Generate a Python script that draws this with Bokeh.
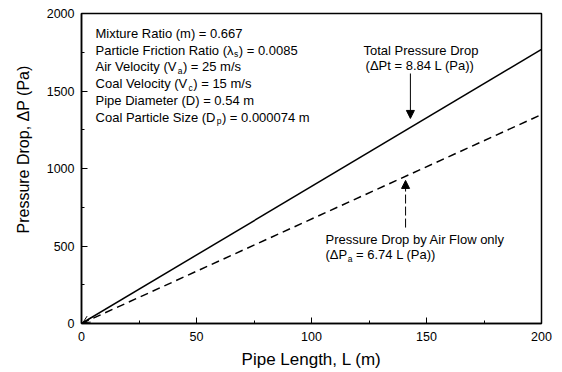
from bokeh.plotting import figure
from bokeh.models import Range1d, SingleIntervalTicker, Arrow, NormalHead, OpenHead, Title
from bokeh.core.properties import value
from bokeh.embed import file_html
from bokeh.resources import INLINE

# ---- data ----
pipe_length = [0, 200]
total_dp = [0, 1768]      # 8.84 L
air_dp = [0, 1348]        # 6.74 L

x_ticks_interval = 50
y_ticks_interval = 500

x_title = "Pipe Length, L (m)"
y_title = "Pressure Drop, \u0394P (Pa)"

info_prefix = ["Mixture Ratio (m) = 0.667", "Particle Friction Ratio (\u03bb",
               "Air Velocity (V", "Coal Velocity (V", "Pipe Diameter (D) = 0.54 m",
               "Coal Particle Size (D"]
info_sub = ["", "s", "a", "c", "", "p"]
info_suffix = ["", ") = 0.0085", ") = 25 m/s", ") = 15 m/s", "", ") = 0.000074 m"]
info_y = [1871, 1763, 1655, 1548, 1440, 1332]
info_x = 6.1

total_title = "Total Pressure Drop"
total_eq = "(\u0394Pt = 8.84 L (Pa))"
air_title = "Pressure Drop by Air Flow only"
air_eq_prefix = "(\u0394P"
air_eq_sub = "a"
air_eq_suffix = "= 6.74 L (Pa))"

FONT = "Liberation Sans"
FS = 13
SUB_FS = 8.5

W = {' ': 278, '(': 333, ')': 333, '.': 278, '/': 278, ',': 278, '=': 584,
     'A': 667, 'C': 722, 'D': 722, 'F': 611, 'L': 556, 'M': 833, 'P': 667,
     'R': 722, 'S': 667, 'T': 611, 'V': 667,
     'a': 556, 'b': 556, 'c': 500, 'd': 556, 'e': 556, 'f': 278, 'g': 556,
     'h': 556, 'i': 222, 'l': 222, 'm': 833, 'n': 556, 'o': 556, 'p': 556,
     'r': 333, 's': 500, 't': 278, 'u': 556, 'v': 500, 'w': 722, 'x': 500,
     'y': 500, '\u03bb': 500, '\u0394': 668}
for d in "0123456789":
    W[d] = 556


def tw(s, fs):
    return sum(W.get(c, 556) for c in s) * fs / 1000.0


p = figure(width=562, height=372, output_backend="svg", toolbar_location=None,
           x_range=Range1d(0, 200), y_range=Range1d(0, 2000),
           min_border_left=81, min_border_right=21, min_border_top=13,
           min_border_bottom=49)
p.background_fill_color = "white"
p.border_fill_color = "white"
p.outline_line_color = "black"
p.outline_line_width = 1.5
p.xgrid.visible = False
p.ygrid.visible = False

p.xaxis.ticker = SingleIntervalTicker(interval=x_ticks_interval, num_minor_ticks=2)
p.yaxis.ticker = SingleIntervalTicker(interval=y_ticks_interval, num_minor_ticks=2)

for ax in (p.xaxis[0], p.yaxis[0]):
    ax.axis_line_color = "black"
    ax.axis_line_width = 1.5
    ax.major_tick_in = 6
    ax.major_tick_out = 0
    ax.minor_tick_in = 3
    ax.minor_tick_out = 0
    ax.major_tick_line_color = "black"
    ax.minor_tick_line_color = "black"
    ax.major_label_text_font = FONT
    ax.major_label_text_font_size = "12.5px"
    ax.major_label_text_color = "black"
p.xaxis.major_label_standoff = 8
p.yaxis.major_label_standoff = 7

p.xaxis.axis_label = x_title
p.xaxis.axis_label_text_font = FONT
p.xaxis.axis_label_text_font_style = "normal"
p.xaxis.axis_label_text_font_size = "17px"
p.xaxis.axis_label_text_color = "black"
p.xaxis.axis_label_standoff = 6

# y title: not centred on the frame in the reference -> side title with offset
p.add_layout(Title(text=y_title, align="left", offset=90, text_font=FONT,
                   text_font_size="16px", text_font_style="normal",
                   text_color="black", standoff=24), "left")

# lines
p.line(pipe_length, total_dp, line_color="black", line_width=1.5)
p.line(pipe_length, air_dp, line_color="black", line_width=1.5, line_dash="8 5")


def txt(x, y, s, fs=FS, xo=0, yo=0):
    p.text(x=[x], y=[y], text=[s], text_font=value(FONT),
           text_font_size=f"{fs}px", text_baseline="middle", text_align="left",
           x_offset=xo, y_offset=yo, text_color="black")


# info block
for pre, sub, suf, yy in zip(info_prefix, info_sub, info_suffix, info_y):
    txt(info_x, yy, pre)
    if sub:
        off = tw(pre, FS) + 0.5
        txt(info_x, yy, sub, SUB_FS, off, 4)
        off2 = off + tw(sub, SUB_FS) + 0.5
        txt(info_x, yy, suf, FS, off2)

# total annotation
txt(122.6, 1761, total_title)
txt(123.5, 1665, total_eq)
p.add_layout(Arrow(end=NormalHead(size=8, fill_color="black", line_color="black"),
                   x_start=143.0, y_start=1613, x_end=143.0, y_end=1323,
                   line_color="black", line_width=1))

# air annotation
txt(106.1, 542, air_title)
txt(106.1, 445, air_eq_prefix)
o1 = tw(air_eq_prefix, FS) + 0.5
txt(106.1, 445, air_eq_sub, SUB_FS, o1, 4)
o2 = o1 + tw(air_eq_sub, SUB_FS) + tw(" ", FS)
txt(106.1, 445, air_eq_suffix, FS, o2)
p.add_layout(Arrow(end=NormalHead(size=8, fill_color="black", line_color="black"),
                   x_start=140.9, y_start=619, x_end=140.9, y_end=923,
                   line_color="black", line_width=1, line_dash="9 3"))

# small arrowhead at origin
p.add_layout(Arrow(end=OpenHead(size=7, line_color="black", line_width=1),
                   x_start=5, y_start=44, x_end=0.6, y_end=5,
                   line_color="black", line_width=1))

open("out.html", "w").write(file_html(p, INLINE))
